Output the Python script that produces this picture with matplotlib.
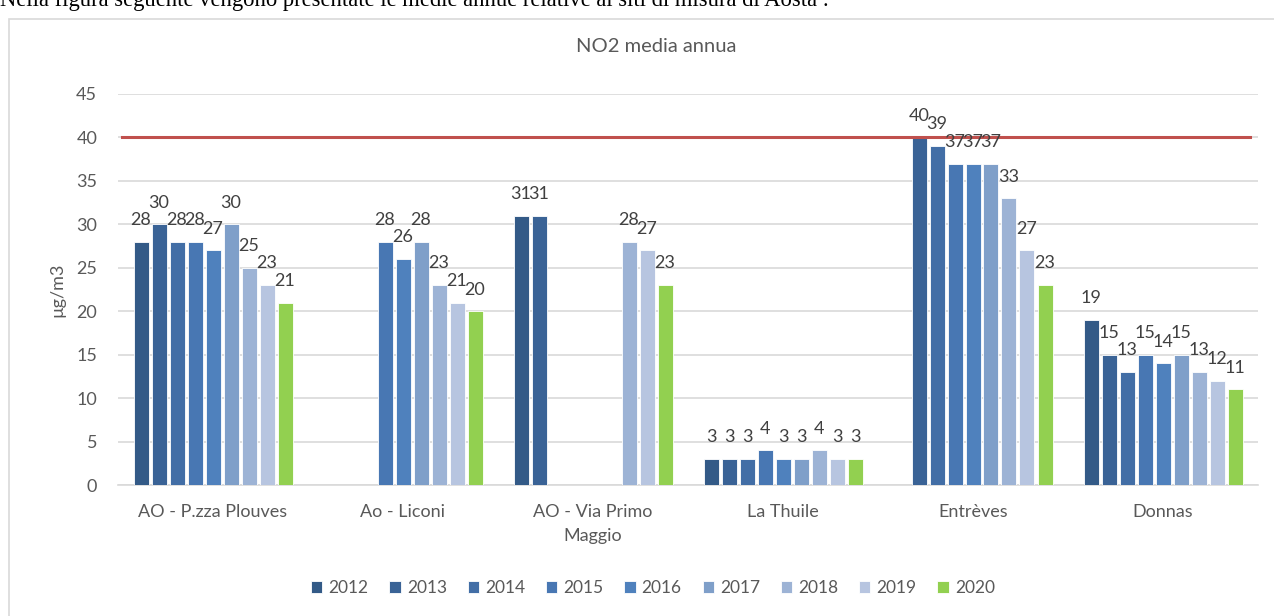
import numpy as np
import matplotlib
matplotlib.use("Agg")
import matplotlib.pyplot as plt
from matplotlib.patches import Rectangle

# dati: medie annue NO2 per sito (nan = dato mancante)
siti = ["AO - P.zza Plouves", "Ao - Liconi", "AO - Via Primo\nMaggio", "La Thuile", "Entrèves", "Donnas"]
anni = ["2012", "2013", "2014", "2015", "2016", "2017", "2018", "2019", "2020"]
nan = np.nan
v2012 = [28, nan, 31, 3, nan, 19]
v2013 = [30, nan, 31, 3, 40, 15]
v2014 = [28, nan, nan, 3, 39, 13]
v2015 = [28, 28, nan, 4, 37, 15]
v2016 = [27, 26, nan, 3, 37, 14]
v2017 = [30, 28, nan, 3, 37, 15]
v2018 = [25, 23, 28, 4, 33, 13]
v2019 = [23, 21, 27, 3, 27, 12]
v2020 = [21, 20, 23, 3, 23, 11]
limite = 40

serie = [v2012, v2013, v2014, v2015, v2016, v2017, v2018, v2019, v2020]
colori = ["#335a87", "#3a6396", "#426ea6", "#4877b3", "#4f81bd",
          "#7f9fc9", "#9db3d5", "#b7c5e0", "#92d050"]
grigio = "#595959"
font = "Lato"

fig = plt.figure(figsize=(12.74, 6.16), dpi=100)

# testo del documento tagliato in alto
fig.text(0.0, 1 - 6 / 616, "Nella figura seguente vengono presentate le medie annue relative ai siti di misura di Aosta :",
         fontsize=16.3, family="Liberation Serif", va="baseline", ha="left", color="black")
# cornice del grafico
fig.patches.append(Rectangle((9 / 1274, -0.1), 1.2, (1 - 19 / 616) + 0.1, transform=fig.transFigure,
                             fill=False, edgecolor="#d9d9d9", linewidth=1.2))

ax = fig.add_axes([118 / 1274, 1 - 485 / 616, 1140 / 1274, (485 - 94) / 616])

x = np.arange(len(siti))
passo = 18 / 190
larg = 15 / 190
for i, (anno, val) in enumerate(zip(anni, serie)):
    val = np.array(val, dtype=float)
    pos = x + (i - 4) * passo
    ax.bar(pos, val, width=larg, color=colori[i], edgecolor="white", linewidth=0.6, label=anno, zorder=3)
    for p, v in zip(pos, val):
        if not np.isnan(v):
            ax.annotate(f"{int(v)}", (p, v), xytext=(0, 12), textcoords="offset points",
                        ha="center", va="baseline", fontsize=13, color="#404040", family=font, zorder=5)

ax.plot([-0.479, 5.458], [limite, limite], color="#c0504d", linewidth=2.2, zorder=4)

ax.set_xlim(-0.5, 5.5)
ax.set_ylim(0, 45)
ax.set_yticks(np.arange(0, 46, 5))
ax.yaxis.grid(True, color="#d9d9d9", linewidth=1.2, zorder=0)
ax.set_axisbelow(True)
for s in ["top", "right", "left"]:
    ax.spines[s].set_visible(False)
ax.spines["bottom"].set_color("#d9d9d9")
ax.spines["bottom"].set_linewidth(1.2)
ax.tick_params(axis="both", length=0, labelsize=13, colors=grigio)
ax.tick_params(axis="y", pad=15)
ax.tick_params(axis="x", pad=14)
ax.set_xticks(x)
ax.set_xticklabels(siti, family=font, linespacing=1.55)
for t in ax.get_yticklabels():
    t.set_family(font)

ax.set_ylabel("µg/m3", fontsize=13, color=grigio, family=font, labelpad=8)
fig.text(656 / 1274, 1 - 47 / 616, "NO2 media annua", fontsize=14.5, color=grigio, family=font,
         ha="center", va="center")

leg = ax.legend(loc="center", bbox_to_anchor=(653 / 1274, 1 - 588 / 616), bbox_transform=fig.transFigure,
                ncol=9, frameon=False, handlelength=0.65, handleheight=0.65, handletextpad=0.35,
                columnspacing=1.2, prop={"family": font, "size": 12.5})
for t in leg.get_texts():
    t.set_color(grigio)

fig.savefig("out.png", dpi=100)
